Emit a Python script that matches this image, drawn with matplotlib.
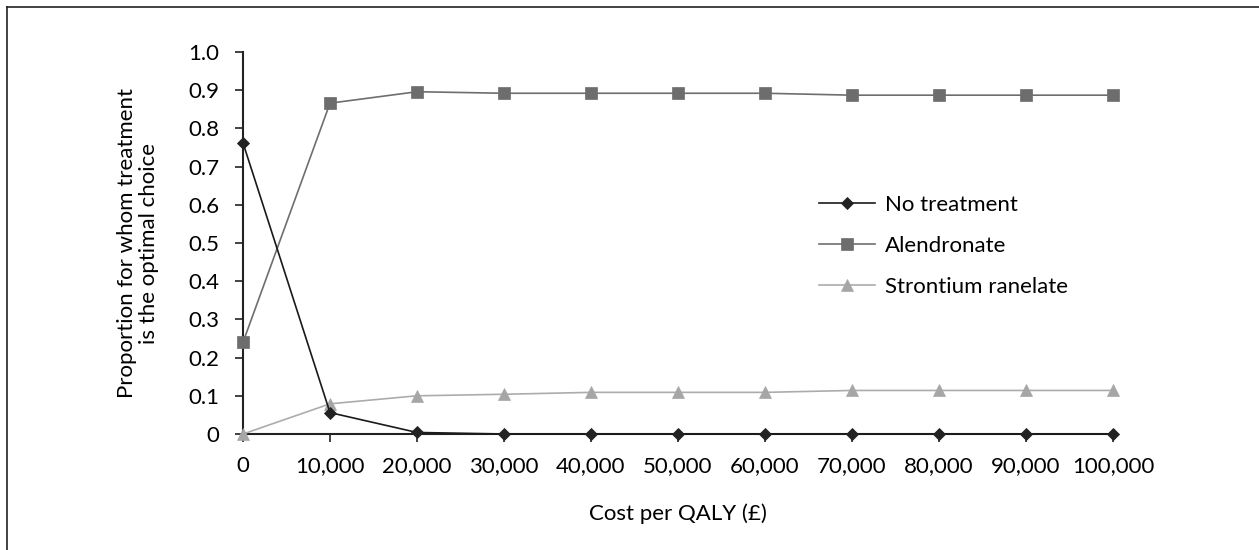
import matplotlib
matplotlib.use("Agg")
import matplotlib.pyplot as plt
from matplotlib.lines import Line2D

plt.rcParams['font.family'] = ['Lato', 'DejaVu Sans']

cost = [0, 10000, 20000, 30000, 40000, 50000, 60000, 70000, 80000, 90000, 100000]
no_treatment = [0.762, 0.056, 0.004, 0, 0, 0, 0, 0, 0, 0, 0]
alendronate = [0.24, 0.866, 0.896, 0.892, 0.892, 0.892, 0.892, 0.887, 0.887, 0.887, 0.887]
strontium = [0, 0.079, 0.10, 0.104, 0.109, 0.109, 0.109, 0.114, 0.114, 0.114, 0.114]
y_ticks = [0, 0.1, 0.2, 0.3, 0.4, 0.5, 0.6, 0.7, 0.8, 0.9, 1.0]
y_labels = ["0", "0.1", "0.2", "0.3", "0.4", "0.5", "0.6", "0.7", "0.8", "0.9", "1.0"]

W, H = 1259, 550
fig = plt.figure(figsize=(W / 100, H / 100), dpi=100)
# axes placed in pixels: x 243..1113, y 52..434
ax = fig.add_axes([243 / W, (H - 434) / H, 870 / W, 382 / H])

ax.plot(cost, no_treatment, color="#1a1a1a", lw=1.2, marker="D", ms=6.0,
        mfc="#222222", mec="#222222", mew=0.6, label="No treatment", clip_on=False, zorder=4)
ax.plot(cost, alendronate, color="#6e6e6e", lw=1.2, marker="s", ms=8.2,
        mfc="#6d6d6d", mec="#6d6d6d", mew=0.5, label="Alendronate", clip_on=False, zorder=3)
ax.plot(cost, strontium, color="#acacac", lw=1.2, marker="^", ms=9.2,
        mfc="#a6a6a6", mec="#a6a6a6", mew=0.5, label="Strontium ranelate", clip_on=False, zorder=3)

ax.set_xlim(0, 100000)
ax.set_ylim(0, 1.0)
ax.set_xticks(cost)
ax.set_xticklabels([f"{c:,}" for c in cost])
ax.set_yticks(y_ticks)
ax.set_yticklabels(y_labels)
ax.tick_params(axis="both", labelsize=16, length=5.5, width=1.2, color="#222222")
ax.tick_params(axis="x", pad=10.5)
ax.tick_params(axis="y", pad=11.5)

for s in ["top", "right"]:
    ax.spines[s].set_visible(False)
for s in ["left", "bottom"]:
    ax.spines[s].set_linewidth(1.5)
    ax.spines[s].set_color("#222222")

fig.text(678 / W, 1 - 514 / H, "Cost per QALY (£)", fontsize=16, ha="center", va="center")
fig.text(138 / W, 1 - 243 / H, "Proportion for whom treatment\nis the optimal choice", fontsize=16,
         ha="center", va="center", rotation=90, multialignment="center", linespacing=1.15)

ax.legend(loc="center left", bbox_to_anchor=(819 / W, 1 - 246 / H), bbox_transform=fig.transFigure,
          frameon=False, fontsize=16, handlelength=2.5, labelspacing=0.95, handletextpad=0.45,
          borderpad=0, borderaxespad=0)

# outer frame (only top and left edges fall inside the picture)
fig.add_artist(Line2D([7 / W, 7 / W], [0, 1 - 7 / H], transform=fig.transFigure,
                      color="#222222", lw=1.2))
fig.add_artist(Line2D([7 / W, 1], [1 - 7 / H, 1 - 7 / H], transform=fig.transFigure,
                      color="#222222", lw=1.2))

fig.savefig("out.png", dpi=100)
